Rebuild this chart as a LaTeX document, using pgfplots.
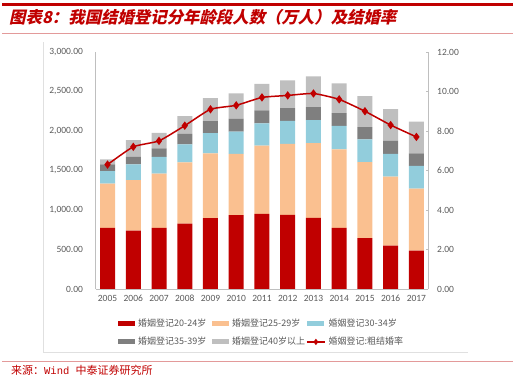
\documentclass[border=0pt]{standalone}
\usepackage{pgfplots}
\usepackage{pgfplotstable}
\pgfplotsset{compat=1.18}
\usepackage{fontspec}
\setmainfont{Carlito}
\newfontfamily\cjk{Noto Sans CJK SC}
\newfontfamily\monof{Liberation Mono}
\newfontfamily\cjktitle{Noto Sans CJK SC}[FakeSlant=0.22]
\definecolor{cred}{HTML}{C00000}
\definecolor{corange}{HTML}{FAC090}
\definecolor{cblue}{HTML}{92CDDC}
\definecolor{cdgray}{HTML}{7F7F7F}
\definecolor{clgray}{HTML}{BFBFBF}
\definecolor{ctext}{HTML}{595959}
\definecolor{cline}{HTML}{E39A9A}
\definecolor{caxis}{HTML}{BFBFBF}
\pgfplotsset{
  barleg/.style={legend image code/.code={\fill[##1] (0pt,-2.5pt) rectangle (17pt,2.5pt);}},
  lineleg/.style={legend image code/.code={\draw[mark repeat=2, mark phase=2, ##1, sharp plot] plot coordinates {(0pt,0pt) (9pt,0pt) (18pt,0pt)};}},
}

\pgfplotstableread{
x a b c d e rate
0 774 559 160 85 63 6.3
1 740 639 199 93 212 7.2
2 774 686 211 110 195 7.5
3 829 775 228 131 224 8.27
4 896 822 254 152 292 9.1
5 934 775 284 165 317 9.3
6 952 863 280 165 338 9.7
7 939 897 292 161 352 9.8
8 901 944 292 165 389 9.9
9 774 994 296 161 377 9.6
10 643 964 288 153 393 9.0
11 550 872 287 165 402 8.3
12 486 784 287 161 402 7.7
}\datatable

\begin{document}
\begin{tikzpicture}
\useasboundingbox (0pt,0pt) rectangle (520pt,383pt);
% header
\fill[cred] (2pt,376.5pt) rectangle (513pt,379.5pt);
\draw[cline, line width=0.8pt] (2pt,350pt) -- (513pt,350pt);
\draw[cline, line width=0.8pt] (2pt,22pt) -- (513pt,22pt);
\node[anchor=west, text=cred, inner sep=0pt] at (9pt,366pt) {\cjktitle\bfseries\fontsize{16.4}{19}\selectfont 图表8：我国结婚登记分年龄段人数（万人）及结婚率};
\node[anchor=west, text=cred, inner sep=0pt] at (11pt,13pt) {\cjk\fontsize{11}{13}\selectfont 来源：{\monof\fontsize{10.5}{12}\selectfont Wind }中泰证券研究所};
% chart frame
\draw[black!12, line width=0.8pt] (43pt,341pt) -- (43pt,31pt) -- (468pt,31pt);

\begin{axis}[
  at={(95.7pt,94pt)}, anchor=south west,
  scale only axis, width=332.3pt, height=237pt,
  ybar stacked, bar width=15pt,
  xmin=-0.46, xmax=12.45,
  ymin=0, ymax=3000,
  xtick={0,...,12},
  xticklabels={2005,2006,2007,2008,2009,2010,2011,2012,2013,2014,2015,2016,2017},
  ytick={0,500,...,3000},
  scaled y ticks=false,
  axis x line*=bottom, axis y line*=left,
  axis line style={caxis, line width=0.6pt},
  major tick length=0pt,
  /pgf/number format/assume math mode=true,
  yticklabel style={/pgf/number format/.cd, fixed, fixed zerofill, precision=2, 1000 sep={,}, /tikz/.cd, font=\fontsize{9.5}{11}\selectfont, text=ctext, inner sep=0pt, xshift=-12.5pt},
  xticklabel style={font=\fontsize{9.5}{11}\selectfont, text=ctext, inner sep=0pt, yshift=-6pt},
  legend columns=3,
  legend style={at={(0.067,-0.112)}, anchor=north west, draw=none, fill=none,
    font=\cjk\fontsize{9}{10.5}\selectfont, text=ctext, inner sep=0pt,
    nodes={text width=71pt, inner sep=3pt, align=left},
    row sep=3.5pt, column sep=0pt},
  legend cell align=left,
]
\addplot[fill=cred, draw=none, barleg] table[x=x, y=a] {\datatable};
\addplot[fill=corange, draw=none, barleg] table[x=x, y=b] {\datatable};
\addplot[fill=cblue, draw=none, barleg] table[x=x, y=c] {\datatable};
\addplot[fill=cdgray, draw=none, barleg] table[x=x, y=d] {\datatable};
\addplot[fill=clgray, draw=none, barleg] table[x=x, y=e] {\datatable};
\addlegendimage{cred, line width=1.5pt, mark=diamond*, mark size=2pt, lineleg}
\legend{婚姻登记20-24岁, 婚姻登记25-29岁, 婚姻登记30-34岁, 婚姻登记35-39岁, 婚姻登记40岁以上, 婚姻登记:粗结婚率}
\end{axis}

\begin{axis}[
  at={(95.7pt,94pt)}, anchor=south west,
  scale only axis, width=332.3pt, height=237pt,
  xmin=-0.46, xmax=12.45,
  ymin=0, ymax=12,
  ytick={0,2,...,12},
  axis x line=none, axis y line*=right,
  axis line style={caxis, line width=0.6pt},
  ytick style={caxis, line width=0.6pt},
  tick align=inside, major tick length=2.5pt,
  /pgf/number format/assume math mode=true,
  yticklabel style={/pgf/number format/.cd, fixed, fixed zerofill, precision=2, /tikz/.cd, font=\fontsize{9.5}{11}\selectfont, text=ctext, inner sep=0pt, xshift=9pt},
]
\addplot[cred, line width=1.5pt, mark=diamond*, mark size=3pt, smooth, tension=0.3] table[x=x, y=rate] {\datatable};
\end{axis}
\end{tikzpicture}
\end{document}
